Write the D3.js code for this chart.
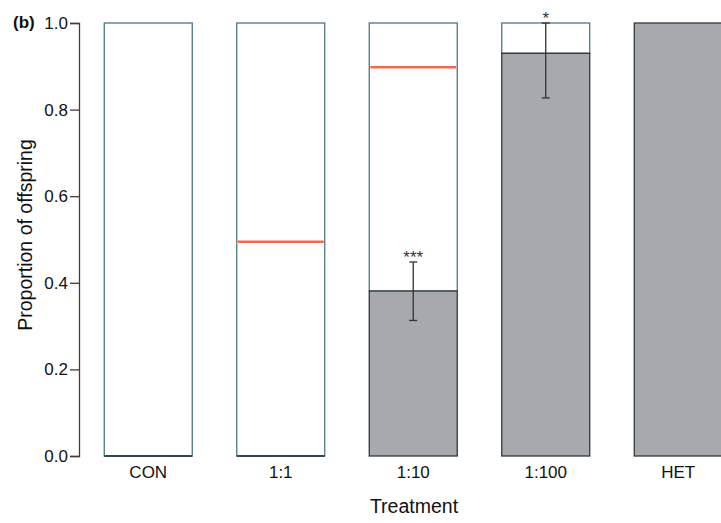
<!DOCTYPE html>
<html>
<head>
<meta charset="utf-8">
<script src="https://cdn.jsdelivr.net/npm/d3@7/dist/d3.min.js"></script>
<style>
  body { margin: 0; background: #fff; }
  svg { font-family: "Liberation Sans", Arial, sans-serif; }
</style>
</head>
<body>
<div id="chart"></div>
<script>
// data
var categories = ["CON", "1:1", "1:10", "1:100", "HET"]
var proportion = [0, 0, 0.381, 0.93, 1.0]          // grey part of each bar
var errLow = [null, null, 0.313, 0.827, null]
var errHigh = [null, null, 0.448, 1.0, null]
var expected = [null, 0.495, 0.898, null, null]   // red reference lines
var stars = ["", "", "***", "*", ""]
var yTicks = [0, 0.2, 0.4, 0.6, 0.8, 1.0]

var width = 721
var height = 523

var svg = d3.select("#chart")
    .append("svg")
    .attr("width", width)
    .attr("height", height)

var y = d3.scaleLinear()
    .domain([0, 1])
    .range([456, 23])

var x = d3.scaleBand()
    .domain(categories)
    .range([82, 744.5])
    .paddingInner(0.336)
    .paddingOuter(0.168)

var rows = categories.map(function(c, i) {
    return { cat: c, p: proportion[i], lo: errLow[i], hi: errHigh[i], ex: expected[i], star: stars[i] }
})

// y axis
var yAxis = d3.axisLeft(y)
    .tickValues(yTicks)
    .tickFormat(d3.format(".1f"))
    .tickSize(9)
    .tickPadding(2)

var ag = svg.append("g")
    .attr("transform", "translate(79,0)")
    .call(yAxis)
ag.select(".domain").attr("stroke", "#4a3a36").attr("stroke-width", 1.3)
ag.selectAll(".tick line").attr("stroke", "#4a3a36").attr("stroke-width", 1.3)
ag.selectAll(".tick text")
    .attr("fill", "#111")
    .style("font-size", "17px")

// white upper parts
svg.selectAll(".top")
    .data(rows)
    .enter()
    .append("rect")
    .attr("x", function(d) { return x(d.cat) })
    .attr("y", y(1))
    .attr("width", x.bandwidth())
    .attr("height", function(d) { return y(d.p) - y(1) })
    .attr("fill", "#fff")
    .attr("stroke", "#4d7784")
    .attr("stroke-width", 1.3)

// grey lower parts
svg.selectAll(".bottom")
    .data(rows.filter(function(d) { return d.p > 0 }))
    .enter()
    .append("rect")
    .attr("x", function(d) { return x(d.cat) })
    .attr("y", function(d) { return y(d.p) })
    .attr("width", x.bandwidth())
    .attr("height", function(d) { return y(0) - y(d.p) })
    .attr("fill", "#a7a9ac")
    .attr("stroke", "#2f3a3c")
    .attr("stroke-width", 1.3)

// base line of empty bars
svg.selectAll(".base")
    .data(rows.filter(function(d) { return d.p == 0 }))
    .enter()
    .append("line")
    .attr("x1", function(d) { return x(d.cat) })
    .attr("x2", function(d) { return x(d.cat) + x.bandwidth() })
    .attr("y1", y(0))
    .attr("y2", y(0))
    .attr("stroke", "#2f4a50")
    .attr("stroke-width", 2)

// red expected lines
svg.selectAll(".exp")
    .data(rows.filter(function(d) { return d.ex != null }))
    .enter()
    .append("line")
    .attr("x1", function(d) { return x(d.cat) + 1 })
    .attr("x2", function(d) { return x(d.cat) + x.bandwidth() - 1 })
    .attr("y1", function(d) { return y(d.ex) })
    .attr("y2", function(d) { return y(d.ex) })
    .attr("stroke", "#f26b4f")
    .attr("stroke-width", 2.5)

// error bars
var eb = rows.filter(function(d) { return d.lo != null })
var cx = function(d) { return x(d.cat) + x.bandwidth() / 2 }

svg.selectAll(".err")
    .data(eb)
    .enter()
    .append("line")
    .attr("x1", cx)
    .attr("x2", cx)
    .attr("y1", function(d) { return y(d.lo) })
    .attr("y2", function(d) { return y(d.hi) })
    .attr("stroke", "#333")
    .attr("stroke-width", 1.3)

eb.forEach(function(d) {
    [d.lo, d.hi].forEach(function(v) {
        svg.append("line")
            .attr("x1", cx(d) - 4)
            .attr("x2", cx(d) + 4)
            .attr("y1", y(v))
            .attr("y2", y(v))
            .attr("stroke", "#333")
            .attr("stroke-width", 1.3)
    })
})

// significance stars
svg.selectAll(".star")
    .data(eb)
    .enter()
    .append("text")
    .attr("x", cx)
    .attr("y", function(d) { return y(d.hi) + 1 })
    .attr("text-anchor", "middle")
    .style("font-size", "17px")
    .attr("fill", "#333")
    .text(function(d) { return d.star })

// category labels
svg.selectAll(".cat")
    .data(categories)
    .enter()
    .append("text")
    .attr("x", function(d) { return x(d) + x.bandwidth() / 2 })
    .attr("y", 478)
    .attr("text-anchor", "middle")
    .style("font-size", "17px")
    .attr("fill", "#111")
    .text(function(d) { return d })

// axis titles
svg.append("text")
    .attr("x", 414)
    .attr("y", 513)
    .attr("text-anchor", "middle")
    .style("font-size", "19.5px")
    .attr("fill", "#111")
    .text("Treatment")

svg.append("text")
    .attr("transform", "translate(32,235) rotate(-90)")
    .attr("text-anchor", "middle")
    .style("font-size", "19.5px")
    .attr("fill", "#111")
    .text("Proportion of offspring")

svg.append("text")
    .attr("x", 13)
    .attr("y", 28)
    .style("font-size", "17px")
    .style("font-weight", "bold")
    .attr("fill", "#111")
    .text("(b)")
</script>
</body>
</html>
